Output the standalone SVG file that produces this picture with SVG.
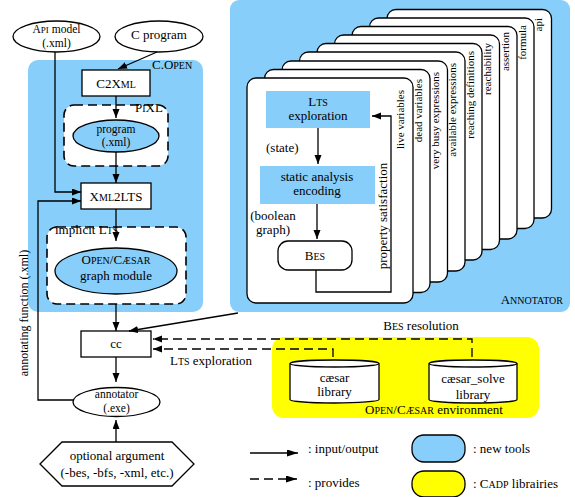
<svg xmlns="http://www.w3.org/2000/svg" width="575" height="497" viewBox="0 0 575 497" font-family="'Liberation Serif', 'Times New Roman', 'DejaVu Serif', serif">
<defs>
<style>
text{font-family:"Liberation Serif","Times New Roman","DejaVu Serif",serif;font-size:13px;fill:#000}
.m{text-anchor:middle}
.s{font-size:10px}
.t{font-size:11.5px}
.lab{font-size:11px;text-anchor:end}
.ln{fill:none;stroke:#000;stroke-width:1.3}
.dash{fill:none;stroke:#000;stroke-width:1.3;stroke-dasharray:9,5}
.box{fill:#fff;stroke:#000;stroke-width:1.3}
.blue{fill:#87cefa}
.card{fill:#fff;stroke:#000;stroke-width:1.3}
.dbox{fill:#fff;stroke:#000;stroke-width:1.6;stroke-dasharray:9,5}
</style>
<marker id="ah" markerUnits="userSpaceOnUse" markerWidth="10" markerHeight="8" refX="9" refY="3.5" orient="auto" viewBox="0 0 10 8">
<path d="M0,0 L9,3.5 L0,7 z" fill="#000"/>
</marker>
<marker id="ahl" markerUnits="userSpaceOnUse" markerWidth="12" markerHeight="8" refX="11" refY="3.5" orient="auto" viewBox="0 0 12 8">
<path d="M0,0 L11,3.5 L0,7 z" fill="#000"/>
</marker>
</defs>
<rect width="575" height="497" fill="#fff"/>

<!-- containers -->
<g id="copen">
<rect x="28" y="60" width="175" height="252" rx="10" class="blue"/>
<text x="152" y="69">C.O<tspan class="s">PEN</tspan></text>
</g>
<g id="annotator-box">
<rect x="230" y="0" width="340" height="312" rx="9" class="blue"/>
<text x="563" y="304" style="text-anchor:end">A<tspan class="s">NNOTATOR</tspan></text>
</g>
<g id="env">
<rect x="272" y="337" width="267" height="81" rx="12" fill="#ffff00"/>
<text x="434" y="414" class="m">O<tspan class="s">PEN</tspan>/C<tspan class="s">ÆSAR</tspan> environment</text>
</g>

<!-- cards -->
<g id="cards">
<rect class="card" x="387" y="9.5" width="164.5" height="208.5" rx="9"/>
<rect class="card" x="369.5" y="18" width="164.5" height="210.5" rx="9"/>
<rect class="card" x="352" y="26.5" width="165" height="212.5" rx="9"/>
<rect class="card" x="334.5" y="35" width="165" height="214.5" rx="9"/>
<rect class="card" x="317" y="43.5" width="165" height="216.5" rx="9"/>
<rect class="card" x="299.5" y="52" width="165.5" height="219" rx="9"/>
<rect class="card" x="282" y="61" width="165.5" height="221" rx="9"/>
<rect class="card" x="264.5" y="69.5" width="165.5" height="223" rx="9"/>
<rect class="card" x="247" y="78" width="166" height="225" rx="9"/>
<text class="lab" transform="translate(542,18) rotate(-90)">api</text>
<text class="lab" transform="translate(526,25) rotate(-90)">formula</text>
<text class="lab" transform="translate(508.5,32) rotate(-90)">assertion</text>
<text class="lab" transform="translate(490.5,43) rotate(-90)">reachability</text>
<text class="lab" transform="translate(473.5,51) rotate(-90)">reaching definitions</text>
<text class="lab" transform="translate(456,63) rotate(-90)">available expressions</text>
<text class="lab" transform="translate(438.5,72) rotate(-90)">very busy expressions</text>
<text class="lab" transform="translate(422,79) rotate(-90)">dead variables</text>
<text class="lab" transform="translate(404,90) rotate(-90)">live variables</text>
</g>

<!-- nodes -->
<g id="api-model">
<ellipse cx="56.5" cy="36.5" rx="43.5" ry="15.5" class="box"/>
<text x="56.5" y="33" class="m t">A<tspan style="font-size:9px">PI</tspan> model</text>
<text x="56.5" y="46.5" class="m t">(.xml)</text>
</g>
<g id="c-program">
<ellipse cx="159" cy="36.5" rx="44" ry="15.5" class="box"/>
<text x="159" y="39" class="m">C program</text>
</g>
<g id="c2xml">
<rect x="82" y="70" width="68" height="26" class="box"/>
<text x="116" y="88" class="m">C2X<tspan class="s">ML</tspan></text>
</g>
<g id="pixl">
<rect x="64" y="105" width="104" height="61" rx="10" class="dbox"/>
<text x="135" y="112">P<tspan class="s">I</tspan>XL</text>
</g>
<g id="program">
<ellipse cx="116" cy="136" rx="43" ry="16" class="blue" stroke="#000" stroke-width="1.3"/>
<text x="116" y="132.5" class="m t">program</text>
<text x="116" y="146" class="m t">(.xml)</text>
</g>
<g id="xml2lts">
<rect x="81" y="183" width="70" height="26" class="box"/>
<text x="116" y="201" class="m">X<tspan class="s">ML</tspan>2LTS</text>
</g>
<g id="implicit-lts">
<rect x="47" y="227" width="139" height="77" rx="10" class="dbox"/>
<text x="55" y="234">implicit L<tspan class="s">TS</tspan></text>
</g>
<g id="opencaesar-graph">
<ellipse cx="116" cy="271" rx="61" ry="23" class="blue" stroke="#000" stroke-width="1.3"/>
<text x="116" y="264" class="m">O<tspan class="s">PEN</tspan>/C<tspan class="s">ÆSAR</tspan></text>
<text x="116" y="280" class="m">graph module</text>
</g>
<g id="cc">
<rect x="81" y="331" width="70" height="26" class="box"/>
<text x="116" y="348" class="m">cc</text>
</g>
<g id="annotator-exe">
<ellipse cx="116.5" cy="402" rx="43.5" ry="14.5" class="box"/>
<text x="116.5" y="398" class="m t">annotator</text>
<text x="116.5" y="411.5" class="m t">(.exe)</text>
</g>
<g id="optional-argument">
<polygon points="40,464 62,442 172,442 194,464 172,486 62,486" class="box"/>
<text x="117" y="460" class="m">optional argument</text>
<text x="117" y="477" class="m">(-bes, -bfs, -xml, etc.)</text>
</g>
<g id="lts-exploration">
<rect x="266" y="91" width="104" height="37" class="blue"/>
<text x="318" y="106" class="m">L<tspan class="s">TS</tspan></text>
<text x="318" y="120" class="m">exploration</text>
</g>
<g id="static-analysis">
<rect x="260" y="166" width="115" height="38" class="blue"/>
<text x="317" y="181" class="m">static analysis</text>
<text x="317" y="195" class="m">encoding</text>
</g>
<g id="bes">
<rect x="278" y="241" width="74" height="29" rx="10" class="box"/>
<text x="315" y="260" class="m">B<tspan class="s">ES</tspan></text>
</g>
<g id="caesar-lib">
<path d="M290,363.5 V399.5 A44.5,3.5 0 0 0 379,399.5 V363.5" class="box"/>
<ellipse cx="334.5" cy="363.5" rx="44.5" ry="3.5" class="box"/>
<text x="334.5" y="382" class="m">cæsar</text>
<text x="334.5" y="396" class="m">library</text>
</g>
<g id="caesar-solve-lib">
<path d="M429,363.5 V399.5 A44,3.5 0 0 0 517,399.5 V363.5" class="box"/>
<ellipse cx="473" cy="363.5" rx="44" ry="3.5" class="box"/>
<text x="473" y="383" class="m">cæsar_solve</text>
<text x="473" y="399" class="m">library</text>
</g>

<!-- connectors -->
<g id="connectors">
<path d="M157,52 L118,69" class="ln" marker-end="url(#ah)"/>
<path d="M116,96 V118" class="ln" marker-end="url(#ah)"/>
<path d="M116,152 V183" class="ln" marker-end="url(#ah)"/>
<path d="M55,52 V192 H81" class="ln" marker-end="url(#ah)"/>
<path d="M73,400 H38 V201 H81" class="ln" marker-end="url(#ah)"/>
<path d="M116,209 V241" class="ln" marker-end="url(#ah)"/>
<path d="M116,304 V331" class="ln" marker-end="url(#ah)"/>
<path d="M238,313 L129,331" class="ln" marker-end="url(#ah)"/>
<path d="M116,357 V382" class="ln" marker-end="url(#ah)"/>
<path d="M116,442 V420" class="ln" marker-end="url(#ah)"/>
<path d="M472,357 V339 H153" class="dash" marker-end="url(#ah)"/>
<path d="M333,357 V349 H153" class="dash" marker-end="url(#ah)"/>
<path d="M318,128 V164" class="ln" marker-end="url(#ah)"/>
<path d="M317,204 V239" class="ln" marker-end="url(#ah)"/>
<path d="M316,270 V292 H391 V116 H372" class="ln" marker-end="url(#ah)"/>
<text x="266" y="152">(state)</text>
<text x="273" y="220" class="m">(boolean</text>
<text x="273" y="234" class="m">graph)</text>
<text transform="translate(387,216) rotate(-90)" class="m">property satisfaction</text>
<text transform="translate(28,313) rotate(-90)" class="m" style="font-size:12px">annotating function (.xml)</text>
<text x="421" y="330" class="m">B<tspan class="s">ES</tspan> resolution</text>
<text x="211" y="365" class="m">L<tspan class="s">TS</tspan> exploration</text>
</g>

<!-- legend -->
<g id="legend">
<path d="M250,453 H298" class="ln" marker-end="url(#ahl)"/>
<path d="M250,479 H297" class="dash" marker-end="url(#ahl)"/>
<text x="308" y="453">: input/output</text>
<text x="308" y="487">: provides</text>
<rect x="412" y="435" width="53" height="27" rx="12" class="blue" stroke="#000" stroke-width="1.3"/>
<rect x="412" y="471" width="53" height="26" rx="12" fill="#ffff00" stroke="#000" stroke-width="1.3"/>
<text x="473" y="453">: new tools</text>
<text x="473" y="488">: C<tspan class="s">ADP</tspan> librairies</text>
</g>
</svg>
